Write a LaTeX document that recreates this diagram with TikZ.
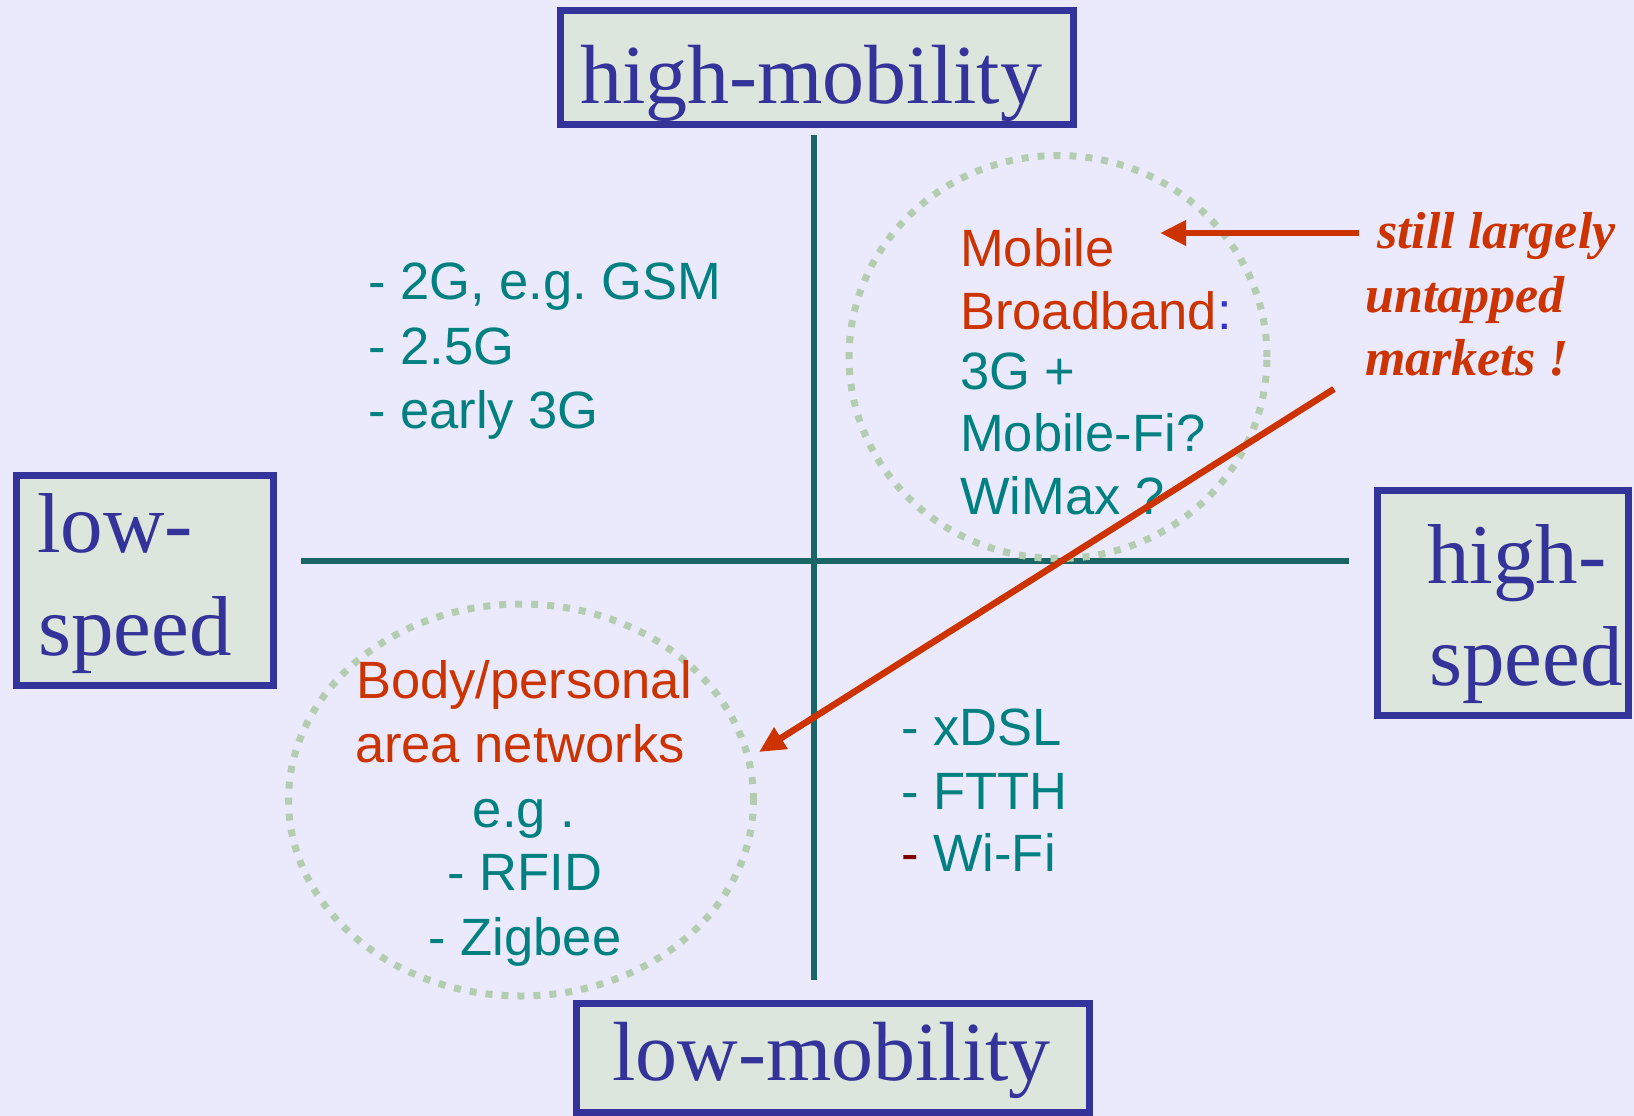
\documentclass[tikz,border=0pt]{standalone}
\usepackage{fontspec}
\setmainfont{Liberation Serif}
\setsansfont{Liberation Sans}
\usetikzlibrary{arrows.meta,shapes.geometric}
\frenchspacing
\definecolor{bgc}{RGB}{234,234,252}
\definecolor{boxfill}{RGB}{220,230,220}
\definecolor{boxline}{RGB}{51,51,153}
\definecolor{teal2}{RGB}{0,128,128}
\definecolor{axisc}{RGB}{26,102,102}
\definecolor{redc}{RGB}{204,51,0}
\definecolor{dotc}{RGB}{180,204,176}
\definecolor{bluec}{RGB}{51,51,204}
\definecolor{darkred}{RGB}{128,0,0}
\tikzset{
  labelbox/.style={draw=boxline,fill=boxfill,line width=7pt,inner sep=0pt},
  mobtext/.style={anchor=base west,inner sep=0pt,text=boxline,font=\fontsize{84}{84}\selectfont},
  spdtext/.style={anchor=base west,inner sep=0pt,text=boxline,font=\fontsize{85}{85}\selectfont},
  itemtext/.style={anchor=base west,inner sep=0pt,text=teal2,font=\sffamily\fontsize{52.5}{52.5}\selectfont},
  ctrtext/.style={anchor=base,inner sep=0pt,text=teal2,font=\sffamily\fontsize{52.5}{52.5}\selectfont},
  notetext/.style={anchor=base west,inner sep=0pt,text=redc,font=\bfseries\itshape\fontsize{52}{52}\selectfont},
  axisline/.style={draw=axisc,line width=6pt},
  dotring/.style={draw=dotc,line width=7pt,dash pattern=on 7pt off 9pt},
  redarrow/.style={draw=redc,line width=6.5pt,-{Triangle[length=26pt,width=24pt]}}
}
\begin{document}
\begin{tikzpicture}[x=1pt,y=-1pt]
\fill[bgc] (0,0) rectangle (1634,1116);
\useasboundingbox (0,0) rectangle (1634,1116);
% axes
\coordinate (vtop) at (814,135);
\coordinate (vbot) at (814,980);
\coordinate (hleft) at (301,561);
\coordinate (hright) at (1349,561);
\draw[axisline] (vtop) -- (vbot);
\draw[axisline] (hleft) -- (hright);
% dotted rings
\node[dotring,ellipse,minimum width=418pt,minimum height=403pt,inner sep=0pt] (ringup) at (1058,357) {};
\node[dotring,ellipse,minimum width=465pt,minimum height=392pt,inner sep=0pt] (ringlow) at (521,800) {};
% boxes
\node[labelbox,minimum width=513pt,minimum height=114pt] (bhm) at (817,67.5) {};
\node[labelbox,minimum width=257pt,minimum height=210pt] (bls) at (145,580.5) {};
\node[labelbox,minimum width=251pt,minimum height=225pt] (bhs) at (1503,603) {};
\node[labelbox,minimum width=513pt,minimum height=109pt] (blm) at (833,1058) {};
\node[mobtext] (thm) at (580,103) {high-mobility};
\node[mobtext] (tlm) at (612,1080) {low-mobility};
\node[spdtext] (tls1) at (37,552) {low-};
\node[spdtext] (tls2) at (38,655) {speed};
\node[spdtext] (ths1) at (1427,583) {high-};
\node[spdtext] (ths2) at (1429,685) {speed};
% upper left items
\node[itemtext] (ul1) at (368,299) {- 2G, e.g. GSM};
\node[itemtext] (ul2) at (368,364) {- 2.5G};
\node[itemtext] (ul3) at (368,428) {- early 3G};
% upper right
\node[itemtext,text=redc] (ur1) at (960,266) {Mobile};
\node[itemtext,text=redc] (ur2) at (960,329) {Broadband\textcolor{bluec}{:}};
\node[itemtext] (ur3) at (960,389) {3G +};
\node[itemtext] (ur4) at (960,451) {Mobile-Fi?};
\node[itemtext] (ur5) at (960,514) {WiMax ?};
% lower left
\node[ctrtext,text=redc] (ll1) at (524,698) {Body/personal};
\node[ctrtext,text=redc] (ll2) at (520,762) {area networks};
\node[ctrtext] (ll3) at (524,827) {e.g .};
\node[ctrtext] (ll4) at (525,890) {- RFID};
\node[ctrtext] (ll5) at (525,955) {- Zigbee};
% lower right
\node[itemtext] (lr1) at (901,745) {- xDSL};
\node[itemtext] (lr2) at (901,809) {- FTTH};
\node[itemtext] (lr3) at (901,871) {\textcolor{darkred}{-} Wi-Fi};
% note
\node[notetext] (n1) at (1377,248) {still largely};
\node[notetext] (n2) at (1365,312) {untapped};
\node[notetext] (n3) at (1365,375) {markets !};
% arrows
\coordinate (a1s) at (1359,233);
\coordinate (a1e) at (1160,233);
\coordinate (a2s) at (1334,389);
\coordinate (a2e) at (759,752);
\draw[redarrow] (a1s) -- (a1e);
\draw[redarrow] (a2s) -- (a2e);
\end{tikzpicture}
\end{document}
